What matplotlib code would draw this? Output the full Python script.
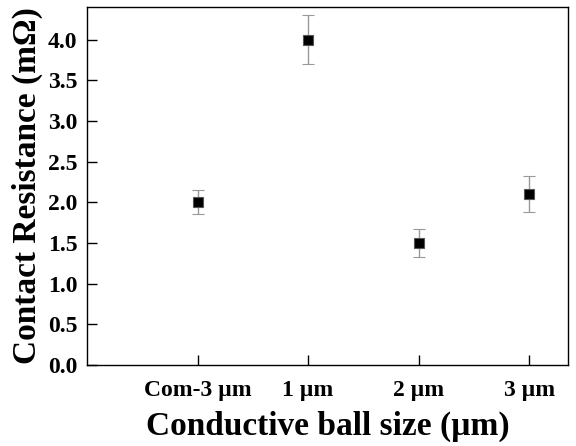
import matplotlib
matplotlib.use("Agg")
import matplotlib.pyplot as plt

# data
sizes = ["Com-3 \u00b5m", "1 \u00b5m", "2 \u00b5m", "3 \u00b5m"]
resistance = [2.0, 4.0, 1.5, 2.1]
resistance_err = [0.15, 0.3, 0.17, 0.22]

plt.rcParams['font.family'] = ['Liberation Serif', 'DejaVu Serif']
plt.rcParams['font.weight'] = 'bold'

fig = plt.figure(figsize=(5.76, 4.46), dpi=100)
ax = fig.add_axes([0.151, 0.182, 0.835, 0.802])

xpos = list(range(1, len(sizes) + 1))
ax.errorbar(xpos, resistance, yerr=resistance_err, fmt='s', color='black',
            markersize=7.5, markeredgecolor='#555555', markeredgewidth=0.8,
            ecolor='#999999', elinewidth=1, capsize=4, capthick=1)

ax.set_xlim(0, 4.35)
ax.set_ylim(0, 4.4)
ax.set_xticks(xpos)
ax.set_xticklabels(sizes)
ax.set_yticks([0, 0.5, 1, 1.5, 2, 2.5, 3, 3.5, 4])
ax.set_yticklabels(["%.1f" % v for v in ax.get_yticks()])
ax.tick_params(direction='in', length=7, width=1, labelsize=17)
ax.tick_params(axis='x', pad=11)
ax.tick_params(axis='y', pad=7)
for lab in ax.get_xticklabels() + ax.get_yticklabels():
    lab.set_fontweight('bold')

ax.set_xlabel("Conductive ball size (\u00b5m)", fontsize=24, fontweight='bold', labelpad=7)
ax.set_ylabel("Contact Resistance (m\u03a9)", fontsize=24, fontweight='bold', labelpad=3)

for s in ax.spines.values():
    s.set_linewidth(1.0)

fig.savefig("out.png", dpi=100)
